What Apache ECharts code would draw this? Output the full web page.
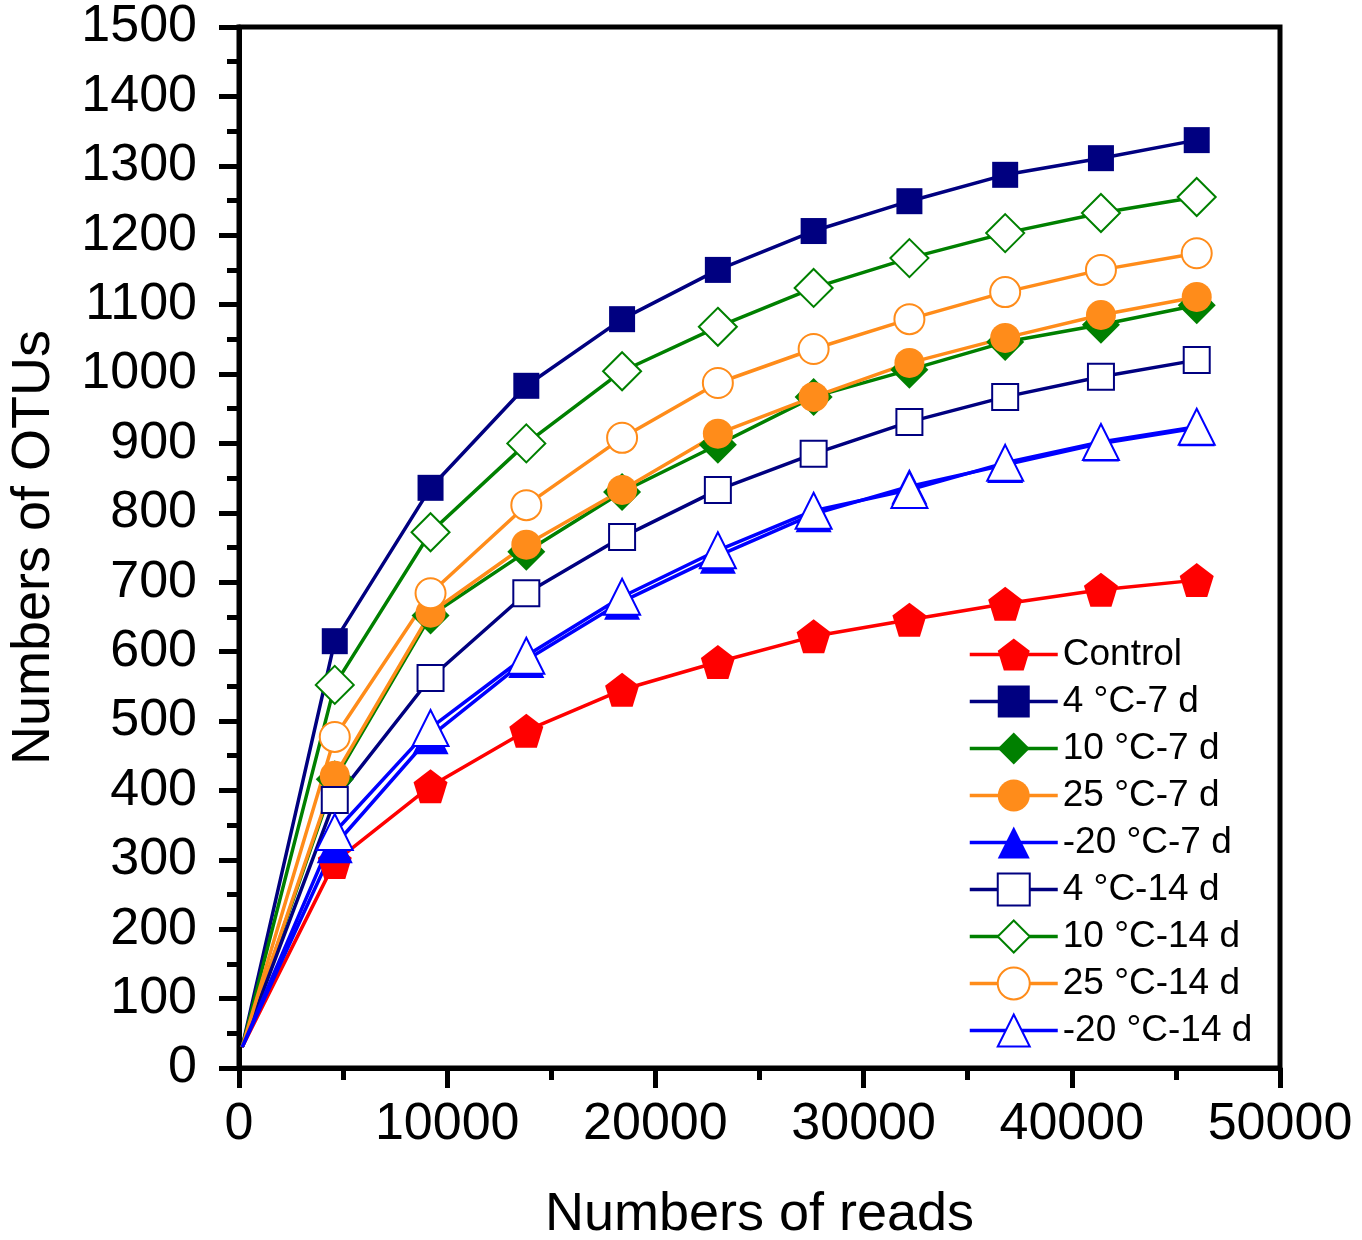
<!DOCTYPE html>
<html lang="en">
<head>
    <meta charset="UTF-8">
    <title>Rarefaction curves</title>
    <script src="https://cdn.jsdelivr.net/npm/echarts@6/dist/echarts.min.js"></script>
    <style>
        html, body { margin: 0; padding: 0; background: #fff; }
    </style>
</head>
<body>
<div id="main" style="width: 1362px;height:1240px;"></div>
<script>
    // reads sampled (first point is the near-origin start of every curve)
    var reads = [150, 4600, 9200, 13800, 18400, 23000, 27600, 32200, 36800, 41400, 46000];

    var control   = [30, 297, 406, 486, 545, 585, 622, 646, 669, 689, 703];
    var c4d7      = [30, 615, 836, 983, 1079, 1150, 1206, 1249, 1287, 1311, 1337];
    var c10d7     = [30, 416, 652, 744, 830, 898, 967, 1006, 1046, 1071, 1099];
    var c25d7     = [30, 421, 656, 754, 833, 914, 967, 1016, 1052, 1085, 1111];
    var m20d7     = [30, 321, 478, 588, 672, 738, 798, 838, 869, 900, 922];
    var c4d14     = [30, 386, 562, 684, 765, 833, 885, 931, 967, 996, 1020];
    var c10d14    = [30, 552, 772, 900, 1004, 1068, 1124, 1167, 1203, 1232, 1255];
    var c25d14    = [30, 477, 684, 811, 908, 987, 1036, 1079, 1118, 1150, 1174];
    var m20d14    = [30, 340, 490, 594, 679, 746, 803, 833, 872, 902, 924];

    var names = ['Control', '4 °C-7 d', '10 °C-7 d', '25 °C-7 d', '-20 °C-7 d',
                 '4 °C-14 d', '10 °C-14 d', '25 °C-14 d', '-20 °C-14 d'];

    var NAVY = '#000080', GREEN = '#008000', ORANGE = '#FF8C1A', BLUE = '#0000FF', RED = '#FF0000';
    var pentagon = 'path://M50,0 L100,38 L81,100 L19,100 L0,38 Z';

    function pairs(ys) {
        return ys.map(function (y, i) {
            var item = {value: [reads[i], y]};
            if (i === 0) item.symbolSize = 0;
            return item;
        });
    }

    function mk(name, ys, color, symbol, size, hollow) {
        return {
            name: name,
            type: 'line',
            data: pairs(ys),
            symbol: symbol,
            symbolSize: size,
            showAllSymbol: true,
            lineStyle: {color: color, width: 3.5},
            itemStyle: hollow
                ? {color: '#fff', borderColor: color, borderWidth: 2}
                : {color: color, borderWidth: 0},
            emphasis: {disabled: true},
            animation: false
        };
    }

    var plain = function (v) { return String(v); };

    var myChart = echarts.init(document.getElementById('main'));
    var option = {
        backgroundColor: '#fff',
        textStyle: {fontFamily: 'Liberation Sans'},
        grid: {
            left: 239, right: 82, top: 27, bottom: 172,
            outerBoundsMode: 'none',
            containLabel: false,
            show: true, borderColor: '#000', borderWidth: 5, backgroundColor: 'transparent'
        },
        legend: {
            orient: 'vertical',
            left: 963, top: 631,
            itemWidth: 88, itemHeight: 40, itemGap: 10,
            lineStyle: {width: 3.5},
            textStyle: {fontSize: 37, color: '#000', fontFamily: 'Liberation Sans'},
            data: names
        },
        xAxis: {
            type: 'value',
            min: 0, max: 50000, interval: 10000,
            name: 'Numbers of reads',
            nameLocation: 'middle',
            nameGap: 120,
            nameTextStyle: {fontSize: 54, color: '#000'},
            axisLine: {lineStyle: {color: '#000', width: 5}},
            axisTick: {length: 20, lineStyle: {color: '#000', width: 5}},
            minorTick: {show: true, splitNumber: 2, length: 12, lineStyle: {color: '#000', width: 5}},
            axisLabel: {fontSize: 52, color: '#000', margin: 31, formatter: plain},
            splitLine: {show: false}
        },
        yAxis: {
            type: 'value',
            min: 0, max: 1500, interval: 100,
            name: 'Numbers of OTUs',
            nameLocation: 'middle',
            nameGap: 178,
            nameTextStyle: {fontSize: 54, color: '#000'},
            axisLine: {show: true, lineStyle: {color: '#000', width: 5}},
            axisTick: {show: true, length: 20, lineStyle: {color: '#000', width: 5}},
            minorTick: {show: true, splitNumber: 2, length: 12, lineStyle: {color: '#000', width: 5}},
            axisLabel: {fontSize: 52, color: '#000', margin: 42, formatter: plain},
            splitLine: {show: false}
        },
        series: [
            mk(names[0], control, RED, pentagon, 34, false),
            mk(names[1], c4d7, NAVY, 'rect', 26, false),
            mk(names[2], c10d7, GREEN, 'diamond', 38, false),
            mk(names[3], c25d7, ORANGE, 'circle', 30, false),
            mk(names[4], m20d7, BLUE, 'triangle', 36, false),
            mk(names[5], c4d14, NAVY, 'rect', 26, true),
            mk(names[6], c10d14, GREEN, 'diamond', 38, true),
            mk(names[7], c25d14, ORANGE, 'circle', 30, true),
            mk(names[8], m20d14, BLUE, 'triangle', 36, true)
        ]
    };

    myChart.setOption(option);
</script>

</body>
</html>
